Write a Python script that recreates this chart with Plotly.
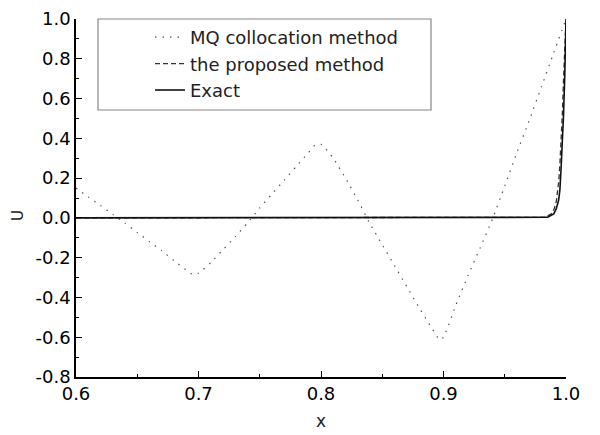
import plotly.graph_objects as go

# MQ collocation method (dotted)
mq_x = [0.60, 0.61, 0.62, 0.63, 0.64, 0.65, 0.66, 0.67, 0.68, 0.69, 0.695, 0.70,
        0.71, 0.72, 0.73, 0.74, 0.75, 0.76, 0.77, 0.78, 0.79, 0.795, 0.80,
        0.81, 0.82, 0.83, 0.84, 0.85, 0.86, 0.87, 0.88, 0.89, 0.897, 0.90,
        0.91, 0.92, 0.93, 0.94, 0.95, 0.96, 0.97, 0.98, 0.99, 1.00]
mq_u = [0.15, 0.105, 0.062, 0.018, -0.027, -0.073, -0.12, -0.165, -0.215, -0.262, -0.283, -0.278,
        -0.225, -0.16, -0.095, -0.025, 0.05, 0.12, 0.19, 0.26, 0.33, 0.365, 0.37,
        0.30, 0.20, 0.09, -0.03, -0.135, -0.24, -0.345, -0.45, -0.55, -0.613, -0.60,
        -0.44, -0.29, -0.15, -0.005, 0.16, 0.33, 0.49, 0.66, 0.83, 1.00]

# the proposed method (dashed)
pm_x = [0.60, 0.983, 0.988, 0.990, 0.992, 0.993, 0.994, 0.995, 0.996, 0.997, 0.998, 0.999, 1.000]
pm_u = [0.0, 0.003, 0.02, 0.04, 0.08, 0.12, 0.18, 0.27, 0.38, 0.52, 0.70, 0.88, 1.00]

# Exact (solid)
ex_x = [0.60, 0.985, 0.990, 0.992, 0.994, 0.995, 0.996, 0.997, 0.998, 0.999, 1.000]
ex_u = [0.0, 0.003, 0.02, 0.045, 0.09, 0.14, 0.25, 0.37, 0.52, 0.72, 1.00]

x_ticks = [0.6, 0.7, 0.8, 0.9, 1.0]
y_ticks = [-0.8, -0.6, -0.4, -0.2, 0.0, 0.2, 0.4, 0.6, 0.8, 1.0]

FONT = "DejaVu Sans, Liberation Sans, Arial, sans-serif"

fig = go.Figure()
fig.add_trace(go.Scatter(x=mq_x, y=mq_u, mode="lines", name="MQ collocation method",
                         line=dict(color="#555555", width=1.2, dash="1.5px,6px", shape="spline", smoothing=0.5)))
fig.add_trace(go.Scatter(x=pm_x, y=pm_u, mode="lines", name="the proposed method",
                         line=dict(color="#333333", width=1.3, dash="5px,3px")))
fig.add_trace(go.Scatter(x=ex_x, y=ex_u, mode="lines", name="Exact",
                         line=dict(color="#111111", width=1.6)))

axis_common = dict(
    showgrid=False, zeroline=False, showline=True, linecolor="black", linewidth=1.5,
    ticks="inside", ticklen=6, tickwidth=1.3, tickcolor="black",
    tickfont=dict(family=FONT, size=18, color="black"),
    mirror=False, automargin=False, ticklabeloverflow="allow",
)

fig.update_xaxes(range=[0.6, 1.0], tickvals=x_ticks, ticktext=[f"{v:.1f}" for v in x_ticks],
                 minor=dict(ticks="inside", ticklen=3, tickwidth=1, tickcolor="black", dtick=0.05, tick0=0.6),
                 **axis_common)
fig.update_yaxes(range=[-0.8, 1.0], tickvals=y_ticks, ticktext=[f"{v:.1f}" for v in y_ticks],
                 minor=dict(ticks="inside", ticklen=3, tickwidth=1, tickcolor="black", dtick=0.1, tick0=-0.8),
                 **axis_common)

# axis titles
fig.add_annotation(text="x", xref="paper", yref="paper", x=0.5, y=-0.123, showarrow=False,
                   xanchor="center", yanchor="middle",
                   font=dict(family=FONT, size=17, color="#222"))
fig.add_annotation(text="U", xref="paper", yref="paper", x=-0.118, y=0.45, showarrow=False,
                   xanchor="center", yanchor="middle", textangle=-90,
                   font=dict(family=FONT, size=15, color="#222"))

# legend frame
fig.add_shape(type="rect", xref="paper", yref="paper", x0=0.0449, x1=0.7245, y0=0.7458, y1=1.0,
              line=dict(color="#888888", width=1.2), fillcolor="rgba(0,0,0,0)", layer="above")

# the page body has an 8px margin, so the figure is drawn 8px smaller and offset
fig.update_layout(
    width=592, height=427,
    margin=dict(l=68, r=34, t=11, b=58),
    plot_bgcolor="white", paper_bgcolor="white",
    showlegend=True,
    legend=dict(x=0.151, y=1.0, xanchor="left", yanchor="top", bgcolor="rgba(0,0,0,0)",
                borderwidth=0, tracegroupgap=0, itemwidth=30,
                font=dict(family=FONT, size=18, color="#222")),
)

fig.write_html("out.html")
